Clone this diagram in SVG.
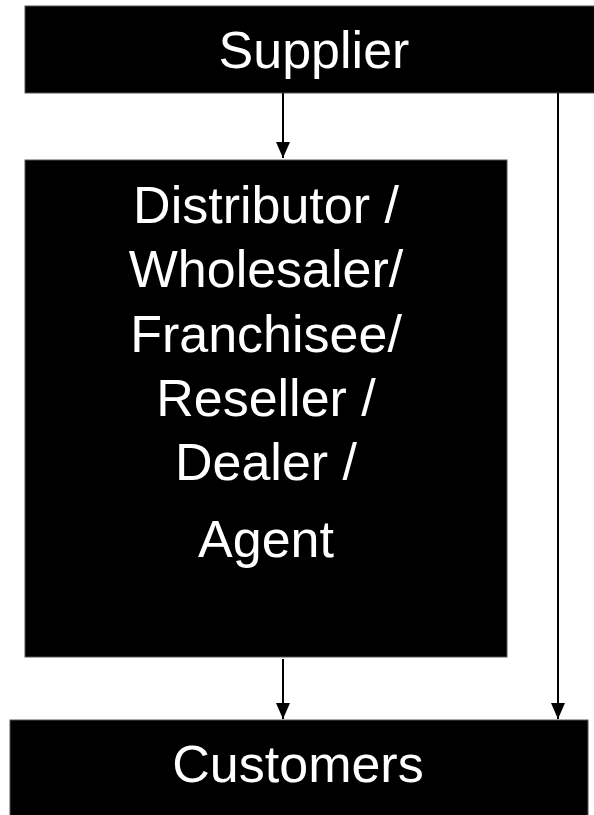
<svg xmlns="http://www.w3.org/2000/svg" width="594" height="815" viewBox="0 0 594 815">
<style>
.box{fill:#000;stroke:#555;stroke-width:1}
.lbl{fill:#fff;font-family:"Liberation Sans",Arial,sans-serif;font-size:52px;text-anchor:middle}
.conn{stroke:#000;stroke-width:2;fill:none}
</style>
<defs>
<marker id="ah" markerWidth="16" markerHeight="14" refX="16" refY="7" orient="auto" markerUnits="userSpaceOnUse" viewBox="0 0 16 14">
<path d="M0,0 L16,7 L0,14 Z" fill="#000"/>
</marker>
</defs>
<rect width="594" height="815" fill="#fff"/>
<g id="supplier">
<rect class="box" x="25" y="6" width="580" height="87"/>
<text class="lbl" x="314" y="68">Supplier</text>
</g>
<g id="intermediary">
<rect class="box" x="25" y="160" width="482" height="497"/>
<text class="lbl" x="266" y="223" font-size="51">Distributor /</text>
<text class="lbl" x="266" y="287" font-size="51">Wholesaler/</text>
<text class="lbl" x="266" y="352" font-size="51">Franchisee/</text>
<text class="lbl" x="266" y="416" font-size="51">Reseller /</text>
<text class="lbl" x="266" y="480" font-size="51">Dealer /</text>
<text class="lbl" x="266" y="557" font-size="51">Agent</text>
</g>
<g id="customers">
<rect class="box" x="10" y="720" width="578" height="100"/>
<text class="lbl" x="298" y="782">Customers</text>
</g>
<g id="connectors">
<line class="conn" x1="283" y1="93" x2="283" y2="158" marker-end="url(#ah)"/>
<line class="conn" x1="283" y1="659" x2="283" y2="719" marker-end="url(#ah)"/>
<line class="conn" x1="558" y1="93" x2="558" y2="719" marker-end="url(#ah)"/>
</g>
</svg>
